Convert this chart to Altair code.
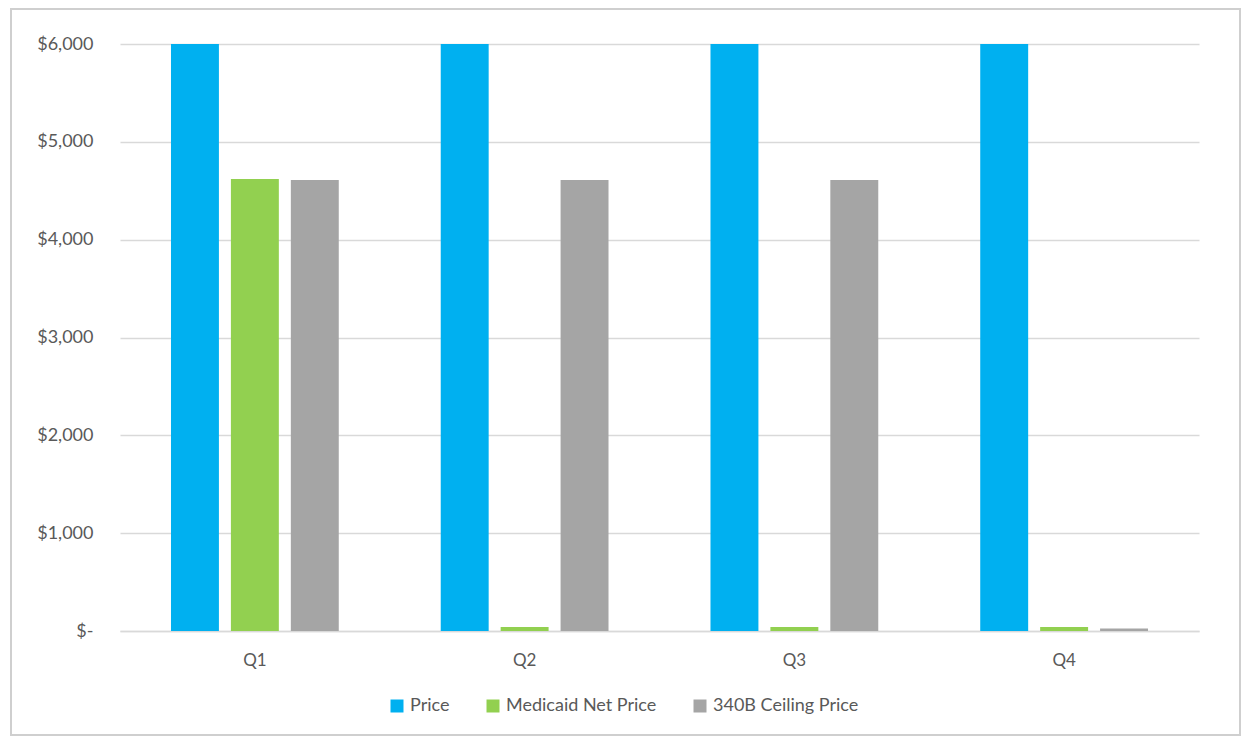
import altair as alt
import pandas as pd

quarters = ["Q1", "Q2", "Q3", "Q4"]
series = ["Price", "Medicaid Net Price", "340B Ceiling Price"]
price = [6000, 6000, 6000, 6000]
medicaid = [4620, 40, 40, 40]
ceiling = [4610, 4610, 4610, 25]
colors = ["#00B0F0", "#92D050", "#A5A5A5"]
y_ticks = [0, 1000, 2000, 3000, 4000, 5000, 6000]

rows = []
for i, q in enumerate(quarters):
    for s, vals in zip(series, [price, medicaid, ceiling]):
        rows.append({"Quarter": q, "Series": s, "Value": vals[i]})
df = pd.DataFrame(rows)

FONT = "Lato"
TXT = "#595959"

bars = alt.Chart(df).mark_bar(clip=True).encode(
    x=alt.X("Quarter:N", sort=quarters, title=None,
            scale=alt.Scale(paddingInner=0.378, paddingOuter=0.189),
            axis=alt.Axis(labelAngle=0, labelFontSize=17, labelColor=TXT, labelFont=FONT,
                          ticks=False, domain=True, domainColor="#D9D9D9", domainWidth=1.5,
                          labelPadding=21)),
    xOffset=alt.XOffset("Series:N", sort=series,
                        scale=alt.Scale(paddingInner=0.2, paddingOuter=0)),
    y=alt.Y("Value:Q", title=None,
            scale=alt.Scale(domain=[0, 6000], nice=False),
            axis=alt.Axis(values=y_ticks, labelFontSize=18, labelColor=TXT, labelFont=FONT,
                          ticks=False, domain=False, gridColor="#D9D9D9", gridWidth=1.5,
                          labelPadding=27,
                          labelExpr="datum.value == 0 ? '$-' : '$' + format(datum.value, ',')")),
    color=alt.Color("Series:N", sort=series,
                    scale=alt.Scale(domain=series, range=colors),
                    legend=alt.Legend(title=None, orient="none", direction="horizontal",
                                      legendX=268, legendY=653,
                                      symbolType="square", symbolSize=169, symbolStrokeWidth=0,
                                      labelFontSize=18, labelColor=TXT, labelFont=FONT,
                                      columnPadding=34, symbolOffset=0, labelOffset=4)),
)

frame = alt.Chart(alt.Data(values=[{}])).mark_rect(
    fill=None, stroke="#CFCFCF", strokeWidth=2
).encode(
    x=alt.value(-109), x2=alt.value(1120), y=alt.value(-35), y2=alt.value(691)
)

chart = alt.layer(frame, bars).properties(
    width=1079, height=587,
    autosize=alt.AutoSizeParams(type="none"),
    padding={"left": 120, "top": 44, "right": 51, "bottom": 109},
    background="white",
).configure_view(stroke=None)

chart.save("out.html", embed_options={"renderer": "svg", "actions": False})
